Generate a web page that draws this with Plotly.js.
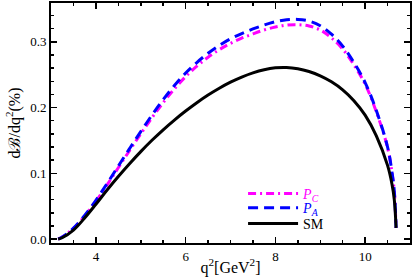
<!DOCTYPE html>
<html><head><meta charset="utf-8">
<script src="https://cdn.plot.ly/plotly-3.0.1.min.js"></script>
<style>html,body{margin:0;padding:0;background:#fff}#chart{width:415px;height:277px}</style>
</head><body><div id="chart"></div>
<script>
const q2 = [3.16, 3.25, 3.5, 3.75, 4.0, 4.25, 4.5, 4.75, 5.0, 5.25, 5.5, 5.75, 6.0, 6.25, 6.5, 6.75, 7.0, 7.25, 7.5, 7.75, 8.0, 8.25, 8.5, 8.75, 9.0, 9.25, 9.5, 9.75, 10.0, 10.25, 10.5, 10.6, 10.65, 10.69];
const sm = [0.000, 0.002, 0.0135, 0.032, 0.053, 0.0745, 0.095, 0.1145, 0.133, 0.1502, 0.1662, 0.181, 0.1947, 0.2074, 0.219, 0.2294, 0.2386, 0.2464, 0.2528, 0.2576, 0.2604, 0.2609, 0.259, 0.2548, 0.2483, 0.2392, 0.227, 0.2105, 0.1885, 0.157, 0.112, 0.083, 0.060, 0.017];
const pA = [0.000, 0.003, 0.0165, 0.036, 0.059, 0.0845, 0.111, 0.1375, 0.1635, 0.1885, 0.212, 0.2335, 0.2525, 0.2685, 0.2825, 0.2945, 0.3045, 0.3125, 0.3195, 0.3255, 0.3305, 0.3335, 0.334, 0.3315, 0.3245, 0.3115, 0.2935, 0.2685, 0.238, 0.1955, 0.140, 0.101, 0.073, 0.017];
const pC = [0.000, 0.003, 0.016, 0.035, 0.0575, 0.0825, 0.1085, 0.1345, 0.160, 0.1845, 0.2075, 0.2285, 0.247, 0.263, 0.2765, 0.288, 0.2975, 0.3055, 0.312, 0.318, 0.3225, 0.3255, 0.326, 0.324, 0.318, 0.306, 0.289, 0.265, 0.2355, 0.1935, 0.139, 0.1005, 0.0725, 0.017];
const names = ['<span style="color:#ff00ff"><i>P</i><sub><i>C</i></sub></span>',
               '<span style="color:#0000ff"><i>P</i><sub><i>A</i></sub></span>',
               'SM'];
const xTicks = [4, 6, 8, 10];
const yTicks = [0.0, 0.1, 0.2, 0.3];

const traces = [
  {x: q2, y: pC, name: names[0], legend: 'legend', mode: 'lines', line: {color: '#ff00ff', width: 3, dash: '8px,4px,2px,4px', shape: 'spline', smoothing: 1}},
  {x: q2, y: pA, name: names[1], legend: 'legend2', mode: 'lines', line: {color: '#0000ff', width: 3, dash: '10px,6px', shape: 'spline', smoothing: 1}},
  {x: q2, y: sm, name: names[2], legend: 'legend3', mode: 'lines', line: {color: '#000000', width: 3, shape: 'spline', smoothing: 1}}
];
const fam = 'Liberation Serif, Times New Roman, serif';
function leg(y) {
  return {x: 0.535, y: y, xanchor: 'left', yanchor: 'top', bgcolor: 'rgba(0,0,0,0)',
          itemwidth: 50, font: {family: fam, size: 14, color: '#000'}};
}
const layout = {
  width: 415, height: 277,
  margin: {l: 51, r: 5, t: 3, b: 34},
  paper_bgcolor: '#fff', plot_bgcolor: '#fff',
  font: {family: fam, size: 13, color: '#000'},
  showlegend: true,
  legend: leg(0.271), legend2: leg(0.212), legend3: leg(0.146),
  xaxis: {range: [3, 11], tickvals: xTicks, ticktext: xTicks.map(String),
          ticks: 'inside', ticklen: 6, tickwidth: 1.5, tickcolor: '#000',
          minor: {dtick: 0.5, ticks: 'inside', ticklen: 3, tickwidth: 1.5, tickcolor: '#000'},
          showline: true, linewidth: 2, linecolor: '#000', mirror: 'ticks',
          showgrid: false, zeroline: false,
          title: {text: 'q<sup>2</sup>[GeV<sup>2</sup>]', font: {family: fam, size: 16, color: '#000'}, standoff: 3}},
  yaxis: {range: [-0.006, 0.359], tickvals: yTicks, ticktext: yTicks.map(v => v.toFixed(1)),
          ticks: 'inside', ticklen: 6, tickwidth: 1.5, tickcolor: '#000',
          minor: {dtick: 0.02, ticks: 'inside', ticklen: 3, tickwidth: 1.5, tickcolor: '#000'},
          showline: true, linewidth: 2, linecolor: '#000', mirror: 'ticks',
          showgrid: false, zeroline: false,
          title: {text: 'd<span style="font-family:DejaVu Serif">ℬ</span>/dq<sup>2</sup>(%)', font: {family: fam, size: 16, color: '#000'}, standoff: 6}}
};
Plotly.newPlot('chart', traces, layout, {staticPlot: true, displayModeBar: false});
</script></body></html>
